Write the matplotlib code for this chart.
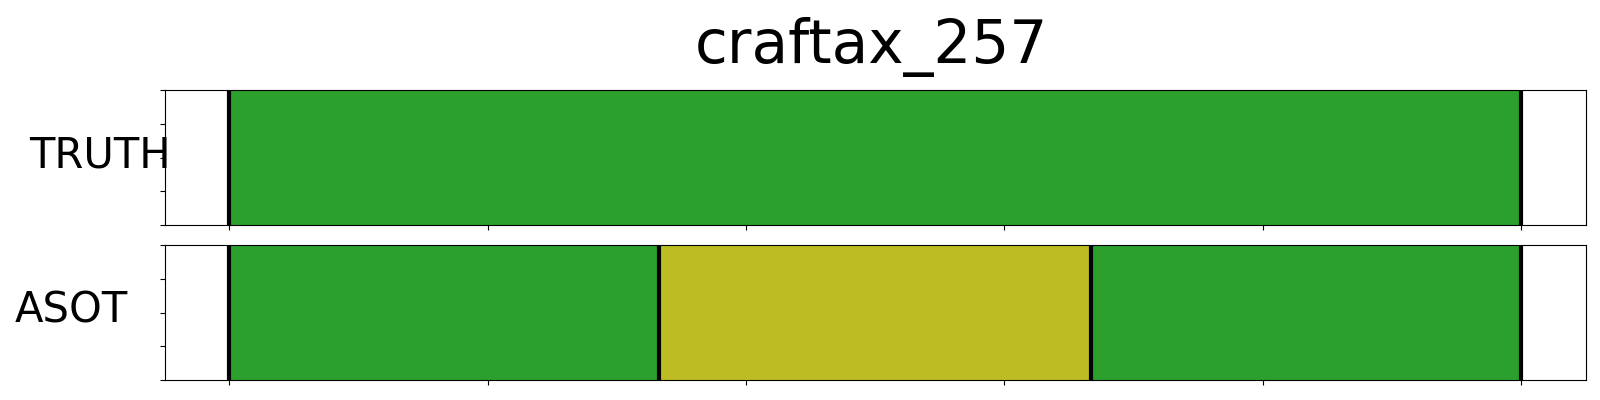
import matplotlib
matplotlib.use("Agg")
import matplotlib.pyplot as plt

# segmentacion: nombre de la fila, limites de los segmentos y colores
title = "craftax_257"
rows = ["TRUTH", "ASOT"]
truth_bounds = [0, 100]
truth_colors = ["#2ca02c"]
asot_bounds = [0, 33.3, 66.7, 100]
asot_colors = ["#2ca02c", "#bcbd22", "#2ca02c"]

segments = [(truth_bounds, truth_colors), (asot_bounds, asot_colors)]

fig = plt.figure(figsize=(16, 4), dpi=100)
ax1 = fig.add_axes([0.103, 0.4375, 0.888, 0.3375])
ax2 = fig.add_axes([0.103, 0.05, 0.888, 0.3375], sharex=ax1)
axes = [ax1, ax2]

label_x = [-0.0455, -0.0655]

for i, ax in enumerate(axes):
    bounds, colors = segments[i]
    for j in range(len(colors)):
        ax.axvspan(bounds[j], bounds[j + 1], color=colors[j], lw=0)
    for b in bounds:
        ax.axvline(b, color="black", lw=3)
    ax.set_ylim(0, 1)
    ax.set_yticks([0, 0.25, 0.5, 0.75, 1])
    ax.set_xticks([0, 20, 40, 60, 80, 100])
    ax.tick_params(labelbottom=False, labelleft=False)
    ax.set_xlim(-5, 105)
    ax.text(label_x[i], 0.515, rows[i], transform=ax.transAxes,
            ha="center", va="center", fontsize=30)

fig.text(0.5445, 0.8425, title, ha="center", va="baseline", fontsize=43)

plt.savefig("out.png")
